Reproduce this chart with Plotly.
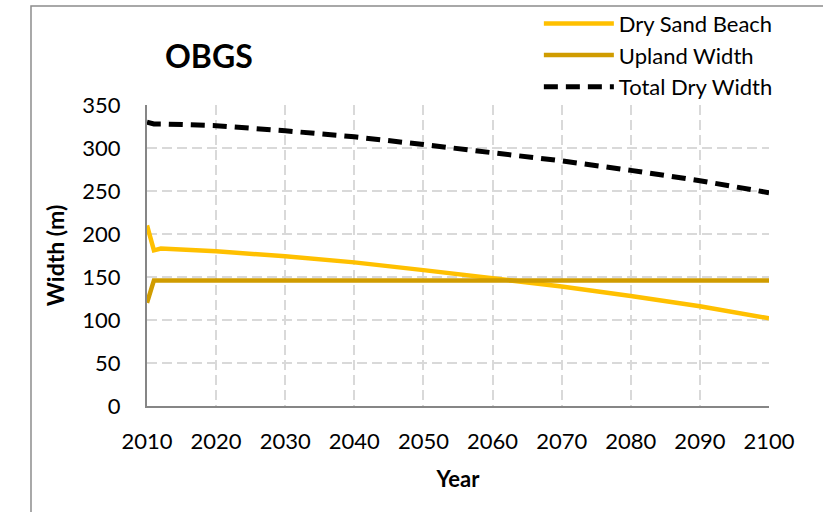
import plotly.graph_objects as go

years = [2010, 2011, 2012, 2020, 2030, 2040, 2050, 2060, 2070, 2080, 2090, 2100]
dry_sand_beach = [210, 181, 183, 180, 174, 167, 158, 149, 139, 128, 116, 102]
upland_width = [120, 146, 146, 146, 146, 146, 146, 146, 146, 146, 146, 146]
total_dry_width = [330, 328, 328, 326, 320, 313, 304, 295, 285, 274, 262, 248]

FONT = "Lato, Carlito, Calibri, sans-serif"

fig = go.Figure()
fig.add_trace(go.Scatter(x=years, y=dry_sand_beach, mode="lines", name="Dry Sand Beach",
                         line={"color": "#FFC000", "width": 4.5}))
fig.add_trace(go.Scatter(x=years, y=upland_width, mode="lines", name="Upland Width",
                         line={"color": "#D09C00", "width": 4.5}))
fig.add_trace(go.Scatter(x=years, y=total_dry_width, mode="lines", name="Total Dry Width",
                         line={"color": "#000000", "width": 5, "dash": "14px,8px"}))

fig.update_layout(
    width=823,
    height=512,
    margin={"l": 147, "r": 54, "t": 105, "b": 106, "autoexpand": False},
    paper_bgcolor="white",
    plot_bgcolor="white",
    font={"family": FONT, "size": 22, "color": "#000000"},
    legend={"x": 0.63, "y": 1.34, "xanchor": "left", "yanchor": "top",
            "font": {"size": 22}, "itemwidth": 70, "bgcolor": "rgba(0,0,0,0)",
            "tracegroupgap": 0},
    showlegend=True,
    annotations=[{"text": "<b>OBGS</b>", "xref": "paper", "yref": "paper",
                  "x": 0.1, "y": 1.166, "xanchor": "center", "yanchor": "middle",
                  "showarrow": False, "font": {"size": 32, "family": FONT}}],
    shapes=[{"type": "rect", "xref": "paper", "yref": "paper",
             "x0": -0.1865, "y0": -1, "x1": 2, "y1": 1.329,
             "line": {"color": "#8c8c8c", "width": 1.5}}],
)
fig.update_xaxes(
    range=[2010, 2100], dtick=10, tick0=2010,
    showline=True, linecolor="#868686", linewidth=2,
    showgrid=True, gridcolor="#d9d9d9", griddash="10px,5px", gridwidth=1.5,
    ticks="outside", ticklen=15, tickcolor="rgba(0,0,0,0)",
    title={"text": "<b>Year</b>", "font": {"size": 22}, "standoff": 18},
    zeroline=False,
)
fig.update_yaxes(
    range=[0, 350], dtick=50,
    showline=True, linecolor="#868686", linewidth=2,
    showgrid=True, gridcolor="#d9d9d9", griddash="10px,5px", gridwidth=1.5,
    ticks="outside", ticklen=20, tickcolor="rgba(0,0,0,0)",
    title={"text": "<b>Width (m)</b>", "font": {"size": 23}, "standoff": 11},
    zeroline=False,
)

fig.write_html("out.html", config={"displayModeBar": False},
               post_script="document.body.style.margin='0';")
